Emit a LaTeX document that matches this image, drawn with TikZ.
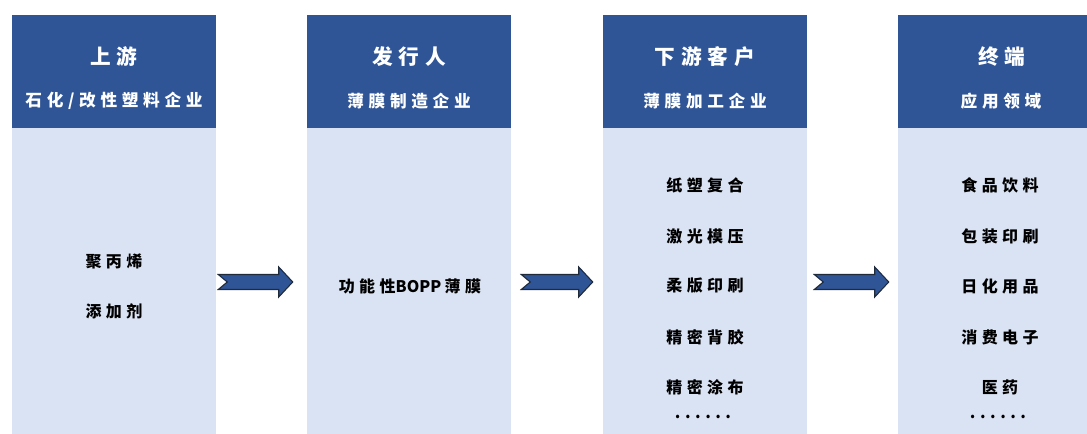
\documentclass[tikz,border=0pt]{standalone}
\usepackage{fontspec}
\newfontfamily\cjk[LetterSpace=28]{Noto Sans CJK SC}
\newfontfamily\lat{Noto Sans CJK SC}
\usetikzlibrary{calc}
\definecolor{hdrblue}{HTML}{2F5597}
\definecolor{bodyblue}{HTML}{DAE3F3}
\definecolor{arrowline}{HTML}{1F2A3A}
\begin{document}
\begin{tikzpicture}[x=0.75pt,y=-0.75pt,
  hdr/.style={fill=hdrblue,draw=none,minimum width=153pt,minimum height=84.75pt,inner sep=0pt},
  bodybox/.style={fill=bodyblue,draw=none,minimum width=153pt,minimum height=229.5pt,inner sep=0pt},
  ttl/.style={text=white,font=\cjk\bfseries\fontsize{15.5}{18}\selectfont,inner sep=0pt},
  sub/.style={text=white,font=\cjk\bfseries\fontsize{12.5}{15}\selectfont,inner sep=0pt},
  item/.style={text=black,font=\cjk\bfseries\fontsize{12}{14}\selectfont,inner sep=0pt},
  blockarrow/.style={fill=hdrblue,draw=arrowline,line width=0.8pt,line join=miter}]
\useasboundingbox (0,0) rectangle (1087,434);
\clip (0,0) rectangle (1087,434);
% columns
\foreach \n/\cx in {1/114,2/409,3/705,4/1000}{
  \node[hdr] (h\n) at (\cx,71.5) {};
  \node[bodybox] (b\n) at (\cx,281) {};
}
% headers
\node[ttl] (t1) at (114,57) {上游};
\node[sub] (s1) at (114,101) {石化/改性塑料企业};
\node[ttl] (t2) at (409,57) {发行人};
\node[sub] (s2) at (409,101) {薄膜制造企业};
\node[ttl] (t3) at (705,57) {下游客户};
\node[sub] (s3) at (705,101) {薄膜加工企业};
\node[ttl] (t4) at (1002,57) {终端};
\node[sub] (s4) at (1001,101) {应用领域};
% column 1
\node[item] (i11) at (114,261) {聚丙烯};
\node[item] (i12) at (114,311) {添加剂};
% column 2
\node[item] (i21) at (410,286) {功能性{\lat\bfseries\fontsize{12}{14}\selectfont BOPP}\hspace{2.5pt}薄膜};
% column 3
\node[item] (i31) at (705,185) {纸塑复合};
\node[item] (i32) at (705,236) {激光模压};
\node[item] (i33) at (705,286) {柔版印刷};
\node[item] (i34) at (705,337) {精密背胶};
\node[item] (i35) at (705,387) {精密涂布};
\node[item] (i36) at (703,417) {......};
% column 4
\node[item] (i41) at (1000,185) {食品饮料};
\node[item] (i42) at (1000,236) {包装印刷};
\node[item] (i43) at (1000,286) {日化用品};
\node[item] (i44) at (1000,337) {消费电子};
\node[item] (i45) at (1000,387) {医药};
\node[item] (i46) at (998,417) {......};
% block arrows between columns
\coordinate (L1) at ($(b1.east)+(2,1)$);  \coordinate (R1) at ($(b2.west)+(-14,1)$);
\coordinate (L2) at ($(b2.east)+(10,1)$); \coordinate (R2) at ($(b3.west)+(-10,1)$);
\coordinate (L3) at ($(b3.east)+(7,1)$);  \coordinate (R3) at ($(b4.west)+(-9,1)$);
\foreach \a in {1,2,3}{
  \draw[blockarrow] ($(L\a)+(0,-7.5)$) -- ($(R\a)+(-14,-7.5)$) -- ($(R\a)+(-14,-15)$)
     -- (R\a) -- ($(R\a)+(-14,15)$) -- ($(R\a)+(-14,7.5)$) -- ($(L\a)+(0,7.5)$)
     -- ($(L\a)+(9,0)$) -- cycle;
}
\end{tikzpicture}
\end{document}
